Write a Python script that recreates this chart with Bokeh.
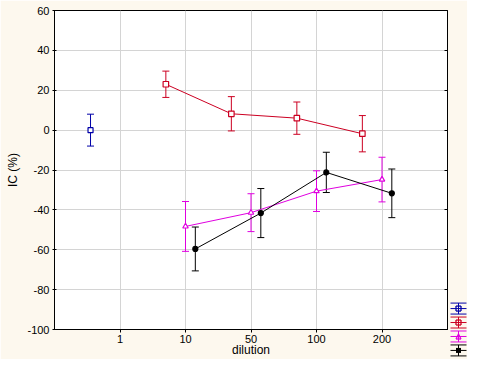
from bokeh.plotting import figure
from bokeh.models import Range1d, FixedTicker, LinearAxis, Whisker, TeeHead, ColumnDataSource
from bokeh.embed import file_html
from bokeh.resources import INLINE

# ---- data ----
dilutions = ["1", "10", "50", "100", "200"]
y_ticks = [-100, -80, -60, -40, -20, 0, 20, 40, 60]

blue_dil = ["1"]
blue_mean = [0.0]
blue_err = [8.0]

red_dil = ["10", "50", "100", "200"]
red_mean = [23.0, 8.2, 6.0, -1.8]
red_err = [6.6, 8.6, 8.1, 9.1]

magenta_dil = ["10", "50", "100", "200"]
magenta_mean = [-48.3, -41.4, -30.6, -24.8]
magenta_err = [12.5, 9.5, 10.2, 11.2]

black_dil = ["10", "50", "100", "200"]
black_mean = [-59.6, -41.6, -21.2, -31.7]
black_err = [11.0, 12.3, 10.1, 12.2]

# ---- style ----
CREAM = "#FDF8EE"
GRID = "#D4D4D4"
FONT = "Liberation Sans"

series = [
    # dil, mean, err, color, marker, fill, dodge, size
    (blue_dil, blue_mean, blue_err, "#0000A8", "square", "white", -0.45, 5),
    (red_dil, red_mean, red_err, "#CC0022", "square", "white", -0.30, 5.5),
    (magenta_dil, magenta_mean, magenta_err, "#E000E0", "triangle", "white", 0.0, 5.5),
    (black_dil, black_mean, black_err, "#000000", "circle", "#000000", 0.15, 5),
]

W, H = 467, 359
BL, BR, BT, BB = 54, 20, 10, 29
FW, FH = W - BL - BR, H - BT - BB  # expected frame size

p = figure(width=W, height=H, output_backend="svg", toolbar_location=None,
           x_range=Range1d(0, 6), y_range=Range1d(-100, 60),
           min_border_left=BL, min_border_right=BR, min_border_top=BT, min_border_bottom=BB)
p.background_fill_color = "white"
p.border_fill_color = CREAM
p.outline_line_color = "black"
p.outline_line_width = 1

# pixel-like ranges for the legend (origin at frame top-left, y downwards)
p.extra_x_ranges = {"lx": Range1d(0, FW)}
p.extra_y_ranges = {"ly": Range1d(FH, 0)}

p.xaxis.ticker = FixedTicker(ticks=list(range(1, len(dilutions) + 1)))
p.xaxis.major_label_overrides = {i + 1: d for i, d in enumerate(dilutions)}
p.yaxis.ticker = FixedTicker(ticks=y_ticks)
p.yaxis.major_label_overrides = {t: str(t) for t in y_ticks}
p.xgrid.ticker = FixedTicker(ticks=list(range(1, len(dilutions) + 1)))
p.ygrid.ticker = FixedTicker(ticks=y_ticks)
p.grid.grid_line_color = GRID
p.grid.grid_line_width = 1

for ax in (p.xaxis, p.yaxis):
    ax.axis_line_color = "black"
    ax.major_tick_line_color = "black"
    ax.minor_tick_line_color = None
    ax.major_label_text_font = FONT
    ax.major_label_text_font_size = "11px"
    ax.major_label_text_color = "black"
    ax.axis_label_text_font = FONT
    ax.axis_label_text_font_size = "12px"
    ax.axis_label_text_font_style = "normal"
    ax.axis_label_text_color = "black"

p.xaxis.axis_label = "dilution"
p.xaxis.major_tick_out = 3
p.xaxis.major_tick_in = 0
p.xaxis.major_label_standoff = 2
p.xaxis.axis_label_standoff = -3

p.yaxis.axis_label = "IC (%)"
p.yaxis.major_tick_out = 2
p.yaxis.major_tick_in = 2
p.yaxis.major_label_standoff = 3
p.yaxis.axis_label_standoff = 4

right_ax = LinearAxis(ticker=FixedTicker(ticks=y_ticks), major_tick_in=3, major_tick_out=0,
                      major_label_text_font_size="0px", major_label_standoff=0,
                      minor_tick_line_color=None, axis_line_color="black")
right_ax.major_label_overrides = {t: "" for t in y_ticks}
p.add_layout(right_ax, "right")

for dil, mean, err, color, marker, fill, dodge, size in series:
    xs = [dilutions.index(d) + 1 + dodge for d in dil]
    src = ColumnDataSource(dict(x=xs, y=mean,
                                upper=[m + e for m, e in zip(mean, err)],
                                lower=[m - e for m, e in zip(mean, err)]))
    w = Whisker(source=src, base="x", upper="upper", lower="lower", dimension="height",
                line_color=color, line_width=1,
                upper_head=TeeHead(size=7, line_color=color, line_width=1),
                lower_head=TeeHead(size=7, line_color=color, line_width=1))
    p.add_layout(w)
    if len(xs) > 1:
        p.line("x", "y", source=src, line_color=color, line_width=1)
    p.scatter("x", "y", source=src, marker=marker, size=size, line_color=color,
              fill_color=fill, line_width=1.2)

# ---- legend (symbols only, no labels), drawn in the right margin with segments ----
leg_cx = 458 - BL
leg_y0 = 309 - BT
leg_step, leg_half, leg_cap, ms = 14.0, 8.0, 5.5, 2.5
for i, (dil, mean, err, color, marker, fill, dodge, size) in enumerate(series):
    cy = leg_y0 + i * leg_step
    x0 = [leg_cx - leg_half] * 3 + [leg_cx]
    x1 = [leg_cx + leg_half] * 3 + [leg_cx]
    y0 = [cy - leg_cap, cy, cy + leg_cap, cy - leg_cap]
    y1 = [cy - leg_cap, cy, cy + leg_cap, cy + leg_cap]
    p.segment(x0=x0, x1=x1, y0=y0, y1=y1, line_color=color, line_width=1,
              x_range_name="lx", y_range_name="ly", level="overlay")
    l, r, t, b = leg_cx - ms, leg_cx + ms, cy - ms, cy + ms
    if marker == "square":
        mx0, mx1, my0, my1 = [l, r, r, l], [r, r, l, l], [t, t, b, b], [t, b, b, t]
        p.segment(x0=mx0, x1=mx1, y0=my0, y1=my1, line_color=color, line_width=1.3,
                  x_range_name="lx", y_range_name="ly", level="overlay")
    elif marker == "triangle":
        mx0, mx1, my0, my1 = [leg_cx, r, l], [r, l, leg_cx], [t, b, b], [b, b, t]
        p.segment(x0=mx0, x1=mx1, y0=my0, y1=my1, line_color=color, line_width=1.3,
                  x_range_name="lx", y_range_name="ly", level="overlay")
    else:
        p.segment(x0=[l], x1=[r], y0=[cy], y1=[cy], line_color=color, line_width=2 * ms,
                  x_range_name="lx", y_range_name="ly", level="overlay")

open("out.html", "w").write(file_html(p, INLINE))
